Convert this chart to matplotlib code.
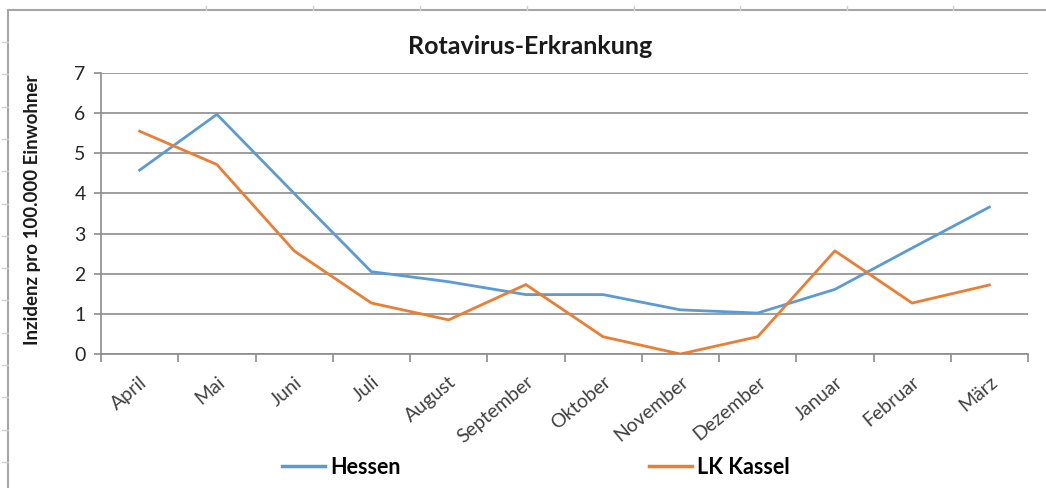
import matplotlib
matplotlib.use("Agg")
import matplotlib.pyplot as plt
from matplotlib.lines import Line2D

plt.rcParams['font.family'] = ['Lato', 'DejaVu Sans']

# data
monate = ['April', 'Mai', 'Juni', 'Juli', 'August', 'September', 'Oktober',
          'November', 'Dezember', 'Januar', 'Februar', 'März']
hessen = [4.58, 5.97, 4.0, 2.05, 1.8, 1.48, 1.48, 1.1, 1.02, 1.61, 2.64, 3.66]
lk_kassel = [5.55, 4.72, 2.57, 1.27, 0.85, 1.73, 0.43, 0.0, 0.43, 2.57, 1.27, 1.72]

blue = '#5B9BD5'
orange = '#ED7D31'
grid_col = '#8C8C8C'

fig = plt.figure(figsize=(10.46, 4.88), dpi=100)
ax = fig.add_axes([101/1046, 1 - 354/488, (1028 - 101)/1046, (354 - 73)/488])

x = list(range(len(monate)))
ax.plot(x, hessen, color=blue, lw=2.0, label='Hessen')
ax.plot(x, lk_kassel, color=orange, lw=2.0, label='LK Kassel')

ax.set_xlim(-0.5, len(monate) - 0.5)
ax.set_ylim(0, 7)
ax.set_yticks(range(0, 8))
ax.yaxis.grid(True, color=grid_col, lw=1.2)
ax.set_axisbelow(True)

# category boundaries carry the ticks, labels sit in the middle
ax.set_xticks([i - 0.5 for i in range(len(monate) + 1)])
ax.set_xticklabels([])
ax.set_xticks(x, minor=True)
ax.set_xticklabels(monate, minor=True, rotation=40, ha='right',
                   rotation_mode='anchor', fontsize=14, color='#404040')
ax.tick_params(axis='x', which='minor', length=0, pad=14)
ax.tick_params(axis='x', which='major', length=6, color=grid_col, width=1.2)
ax.tick_params(axis='y', length=5, color=grid_col, width=1.2,
               labelsize=14, labelcolor='#262626', pad=6)

for s in ['top', 'right']:
    ax.spines[s].set_visible(False)
for s in ['left', 'bottom']:
    ax.spines[s].set_color(grid_col)
    ax.spines[s].set_linewidth(1.2)

fig.text(530/1046, 1 - 47/488, 'Rotavirus-Erkrankung', ha='center', va='center',
         fontsize=18, fontweight='bold', color='#1a1a1a')
fig.text(33/1046, 1 - 210/488, 'Inzidenz pro 100.000 Einwohner', rotation=90,
         ha='center', va='center', fontsize=13.5, fontweight='bold', color='#1a1a1a')

handles = [Line2D([], [], color=blue, lw=2.5), Line2D([], [], color=orange, lw=2.5)]
fig.legend(handles, ['Hessen', 'LK Kassel'], ncol=2, frameon=False,
           loc='center', bbox_to_anchor=(536/1046, 1 - 467/488),
           handlelength=2.0, handletextpad=0.25, columnspacing=11.5,
           prop={'weight': 'bold', 'size': 15.5})

# spreadsheet frame around the chart
fig.add_artist(Line2D([8/1046, 1], [1 - 10/488, 1 - 10/488], color='#A6A6A6', lw=1.5))
fig.add_artist(Line2D([8/1046, 8/1046], [0, 1 - 10/488], color='#A6A6A6', lw=1.5))
for i in range(14):
    yy = 1 - (42 + i * 32.3)/488
    fig.add_artist(Line2D([2/1046, 8/1046], [yy, yy], color='#D0D0D0', lw=1))
for xx in [206, 313, 420, 527, 634, 740, 847, 953]:
    fig.add_artist(Line2D([xx/1046, xx/1046], [1 - 10/488, 1 - 6/488], color='#D0D0D0', lw=1))

fig.savefig('out.png', dpi=100)
